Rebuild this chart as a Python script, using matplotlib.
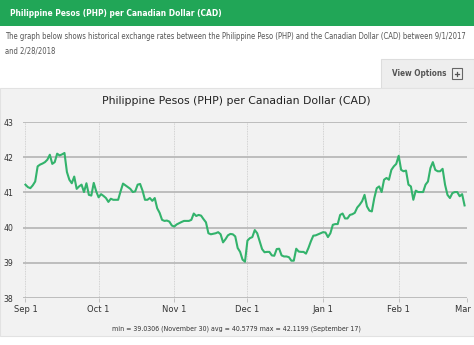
import datetime
import numpy as np
import matplotlib
matplotlib.use('Agg')
from matplotlib import pyplot as plt
from matplotlib.patches import Rectangle
from matplotlib.lines import Line2D

##### rate data, PHP per CAD (day offset from 9/1/2017, rate)
start_date = datetime.date(2017, 9, 1)

day_offsets = [
    0, 1, 2, 3, 4, 5, 6, 7, 8, 9, 10, 11, 12, 13, 14, 15, 16, 17, 18, 19,
    20, 21, 22, 23, 24, 25, 26, 27, 28, 29,
    30, 31, 32, 33, 34, 35, 36, 38, 39, 40, 41, 43, 44, 45, 46, 47, 48, 49,
    50, 51, 52, 53, 54, 55, 56, 57, 58, 59, 60,
    61, 62, 64, 65, 67, 68, 69, 70, 71, 72, 73, 74, 75, 76, 78, 79, 80, 81,
    82, 83, 84, 85, 86, 87, 88, 89, 90,
    91, 92, 93, 94, 95, 96, 97, 98, 99, 100, 101, 102, 103, 104, 105, 106,
    107, 108, 109, 110, 111, 112, 113, 114, 115, 116, 117, 118, 119, 120, 121,
    122, 123, 124, 125, 126, 127, 128, 129, 130, 131, 132, 133, 134, 135, 136,
    137, 138, 139, 140, 141, 142, 143, 144, 145, 146, 147, 148, 149, 150, 151,
    152,
    153, 154, 155, 156, 157, 158, 159, 160, 161, 162, 163, 164, 165, 166, 167,
    168, 169, 170, 171, 172, 173, 174, 175, 176, 177, 178, 179, 180,
]

rates = [
    41.22, 41.15, 41.12, 41.20, 41.31, 41.74, 41.79, 41.82, 41.86, 41.93,
    42.07, 41.81, 41.86, 42.10, 42.05, 42.08, 42.1199, 41.58, 41.36, 41.26,
    41.45, 41.10, 41.17, 41.22, 41.01, 41.26, 40.93, 40.91, 41.27, 41.03,
    40.86, 40.95, 40.90, 40.84, 40.73, 40.82, 40.79, 40.79, 41.03, 41.25,
    41.20, 41.10, 41.01, 41.03, 41.22, 41.24, 41.05, 40.79, 40.79, 40.84,
    40.76, 40.84, 40.55, 40.42, 40.22, 40.19, 40.20, 40.17, 40.06,
    40.03, 40.09, 40.16, 40.19, 40.19, 40.22, 40.40, 40.33, 40.36, 40.34,
    40.24, 40.15, 39.84, 39.81, 39.84, 39.87, 39.81, 39.58, 39.67, 39.78,
    39.82, 39.81, 39.75, 39.42, 39.31, 39.09, 39.0306,
    39.63, 39.70, 39.73, 39.93, 39.84, 39.61, 39.39, 39.30, 39.31, 39.31,
    39.21, 39.20, 39.39, 39.40, 39.21, 39.18, 39.18, 39.16, 39.06, 39.06,
    39.40, 39.32, 39.31, 39.31, 39.26, 39.42, 39.61, 39.77, 39.78, 39.81,
    39.84,
    39.87, 39.86, 39.73, 39.84, 40.08, 40.10, 40.10, 40.36, 40.40, 40.26,
    40.26, 40.36, 40.38, 40.42, 40.57, 40.65, 40.75, 40.93, 40.60, 40.48,
    40.46, 40.84, 41.12, 41.17, 41.01, 41.36, 41.41, 41.36, 41.64, 41.74,
    41.81,
    42.04, 41.64, 41.60, 41.62, 41.22, 41.17, 40.79, 41.05, 41.01, 41.01,
    41.01, 41.22, 41.31, 41.69, 41.86, 41.64, 41.60, 41.60, 41.67, 41.22,
    40.93, 40.84, 40.98, 41.01, 41.01, 40.89, 40.95, 40.63,
]

y_ticks = [38, 39, 40, 41, 42, 43]
month_starts = [datetime.date(2017, 9, 1), datetime.date(2017, 10, 1), datetime.date(2017, 11, 1),
                datetime.date(2017, 12, 1), datetime.date(2018, 1, 1), datetime.date(2018, 2, 1),
                datetime.date(2018, 3, 1)]
month_labels = ['Sep 1', 'Oct 1', 'Nov 1', 'Dec 1', 'Jan 1', 'Feb 1', 'Mar 1']

page_title = 'Philippine Pesos (PHP) per Canadian Dollar (CAD)'
page_blurb = ('The graph below shows historical exchange rates between the Philippine Peso (PHP) '
              'and the Canadian Dollar (CAD) between 9/1/2017\nand 2/28/2018')
stats_line = 'min = 39.0306 (November 30) avg = 40.5779 max = 42.1199 (September 17)'

W, H = 474, 345
# narrow text for the page bits (falls back to regular DejaVu if no condensed face)
narrow = dict(family='DejaVu Sans', fontstretch='condensed')


def px(x, y):
    # pixel (from top left) -> figure fraction
    return x / W, 1 - y / H


def box(fig, x, y, w, h, **kw):
    # rectangle from top-left pixel corner
    r = Rectangle(px(x, y + h), w / W, h / H, transform=fig.transFigure, zorder=-5, **kw)
    fig.patches.append(r)
    return r


def main():
    fig = plt.figure(figsize=(W / 100, H / 100), dpi=100)
    fig.patch.set_facecolor('white')

    # green header bar
    box(fig, 0, 0, W, 26, facecolor='#21a657', edgecolor='none')
    fig.text(*px(10, 13.5), page_title, color='white', fontsize=6.0, fontweight='bold',
             va='center', ha='left', **narrow)
    fig.text(*px(5, 44), page_blurb, color='#555555', fontsize=5.5,
             va='center', ha='left', linespacing=1.75, **narrow)

    # view options button
    box(fig, 381, 59, 93, 29, facecolor='#eeeeee', edgecolor='#dddddd', lw=0.8)
    fig.text(*px(392, 74), 'View Options', color='#555555', fontsize=5.9, fontweight='bold',
             va='center', ha='left', **narrow)
    box(fig, 452, 68, 10, 11, facecolor='none', edgecolor='#666666', lw=0.8)
    fig.lines.append(Line2D([455 / W, 459 / W], [1 - 73.5 / H] * 2, transform=fig.transFigure,
                            color='#555555', lw=0.9))
    fig.lines.append(Line2D([457 / W] * 2, [1 - 71.5 / H, 1 - 75.5 / H], transform=fig.transFigure,
                            color='#555555', lw=0.9))

    # chart panel
    box(fig, 0, 88, W, 248, facecolor='#f2f2f2', edgecolor='#e2e2e2', lw=0.8)

    ax_l, ax_r, ax_t, ax_b = 23, 467, 122, 298
    ax = fig.add_axes([ax_l / W, 1 - ax_b / H, (ax_r - ax_l) / W, (ax_b - ax_t) / H])
    ax.set_facecolor('none')

    dates = [start_date + datetime.timedelta(days=d) for d in day_offsets]

    # grid
    for m in month_starts:
        ax.axvline(m, color='#c8c8c8', lw=0.6, ls=(0, (1, 1)), zorder=1)
    for yt in y_ticks:
        ax.axhline(yt, color='#b9b9b9', lw=1.3, zorder=1)

    ax.plot(dates, rates, color='#33b36c', lw=1.5, zorder=3, solid_joinstyle='round')

    ax.set_ylim(38, 43)
    ax.set_xlim(start_date - datetime.timedelta(days=1.5),
                datetime.date(2018, 3, 1) + datetime.timedelta(days=0.5))
    for s in ax.spines.values():
        s.set_visible(False)

    ax.set_yticks(y_ticks)
    ax.set_yticklabels([str(v) for v in y_ticks])
    ax.set_xticks(month_starts)
    ax.set_xticklabels(month_labels)
    ax.tick_params(axis='y', length=0, pad=7, labelsize=5.6, labelcolor='#333333')
    ax.tick_params(axis='x', length=3, width=0.6, color='#b9b9b9', pad=2,
                   labelsize=6.0, labelcolor='#333333')

    fig.text(*px(236, 101), page_title, color='#222222', fontsize=7.8,
             va='center', ha='center')
    fig.text(*px(236, 329), stats_line, color='#333333', fontsize=5.0,
             va='center', ha='center', **narrow)

    plt.savefig('out.png', dpi=100)


if __name__ == '__main__':
    main()
